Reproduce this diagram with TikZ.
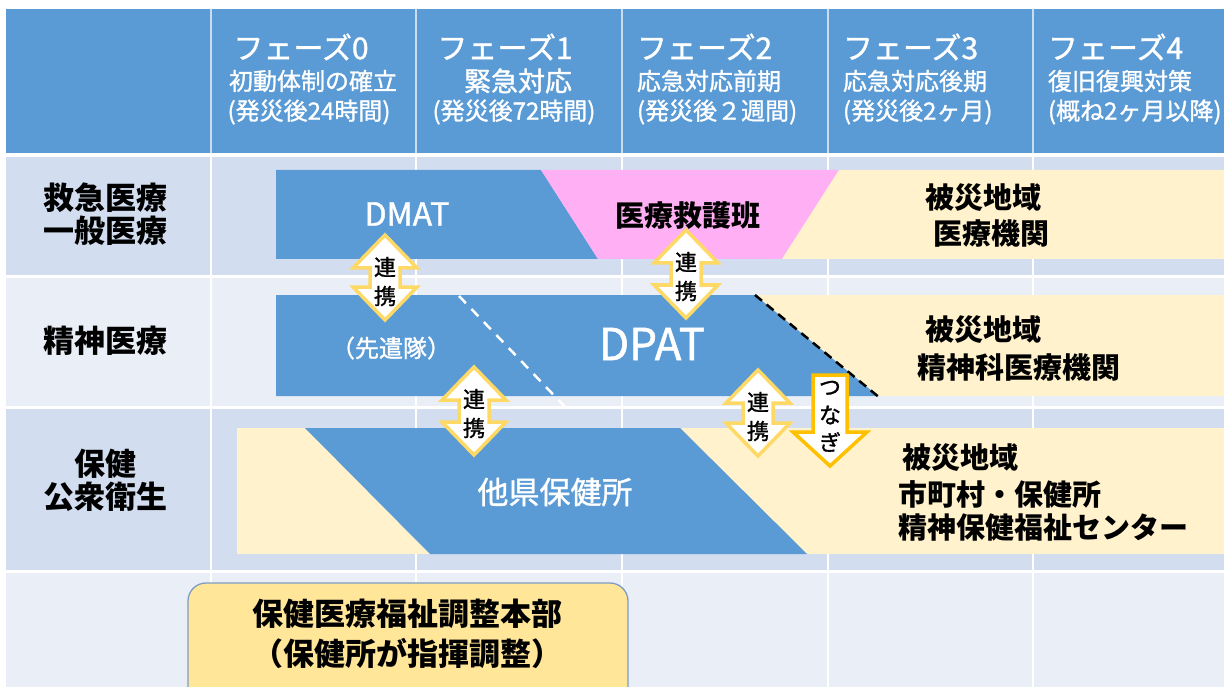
\documentclass[tikz,border=0pt]{standalone}
\usepackage{fontspec}
\setmainfont{Noto Sans CJK JP}
\newfontfamily\jpmed[FakeBold=1.2]{Noto Sans CJK JP}
\definecolor{hdr}{HTML}{5B9BD5}
\definecolor{hdrline}{HTML}{C9DCF0}
\definecolor{rowd}{HTML}{D2DEEF}
\definecolor{rowl}{HTML}{EAEFF7}
\definecolor{beige}{HTML}{FFF2CC}
\definecolor{pinkc}{HTML}{FFB0F5}
\definecolor{ayel}{HTML}{FFD966}
\definecolor{aorg}{HTML}{FFC000}
\definecolor{boxy}{HTML}{FFE699}
\definecolor{boxb}{HTML}{7F9CC4}
\newcommand\fsz[1]{\fontsize{#1}{#1}\selectfont}
\tikzset{
  hdrbig/.style={text=white, font=\jpmed\fsz{30}},
  hdrsub/.style={text=white, font=\jpmed\fsz{24}},
  rowlab/.style={text=black, font=\fsz{31}\bfseries, align=center},
  blk/.style={text=black, font=\fsz{29}\bfseries},
  wht/.style={text=white, font=\jpmed\fsz{30}},
  rentxt/.style={text=black, font=\jpmed\fsz{22}},
  dblarr/.style={draw=ayel, fill=white, line width=3.5, line join=miter},
  downarr/.style={draw=aorg, fill=white, line width=3.5, line join=miter},
}
\newcommand\renkei[4]{% name, cx, top, bottom
  \draw[dblarr] (#2,#3) -- ({#2+32},{#3+33}) -- ({#2+15},{#3+33}) -- ({#2+15},{#4-33}) -- ({#2+32},{#4-33}) -- (#2,#4) -- ({#2-32},{#4-33}) -- ({#2-15},{#4-33}) -- ({#2-15},{#3+33}) -- ({#2-32},{#3+33}) -- cycle;
  \node[rentxt] (#1a) at (#2,{#3+32}) {連};
  \node[rentxt] (#1b) at (#2,{#3+61}) {携};
}
\begin{document}
\begin{tikzpicture}[x=1pt,y=-1pt, every node/.style={inner sep=0pt, outer sep=0pt}]
\useasboundingbox (0,0) rectangle (1224,687);
\fill[white] (0,0) rectangle (1224,687);
% header and rows
\fill[hdr] (6,9) rectangle (1224,153);
\fill[rowd] (6,157) rectangle (1224,275);
\fill[rowl] (6,278) rectangle (1224,406);
\fill[rowd] (6,409) rectangle (1224,570);
\fill[rowl] (6,573) rectangle (1224,687);
\foreach \x in {211,416,622,828,1033} {
  \draw[hdrline, line width=1.5] (\x,9) -- (\x,153);
  \draw[white, line width=1.5] (\x,157) -- (\x,687);
}
% header text
\node[hdrbig] (p0) at (301,47) {フェーズ0};
\node[hdrsub] (p0a) at (313,81) {初動体制の確立};
\node[hdrsub] (p0b) at (309,112) {(発災後24時間)};
\node[hdrbig] (p1) at (505,47) {フェーズ1};
\node[hdrsub, font=\jpmed\fsz{27}] (p1a) at (518,81) {緊急対応};
\node[hdrsub] (p1b) at (514,112) {(発災後72時間)};
\node[hdrbig, anchor=west] (p2) at (637,47) {フェーズ2};
\node[hdrsub, anchor=west] (p2a) at (637,81) {応急対応前期};
\node[hdrsub, anchor=west] (p2b) at (637,112) {(発災後２週間)};
\node[hdrbig, anchor=west] (p3) at (843,47) {フェーズ3};
\node[hdrsub, anchor=west] (p3a) at (843,81) {応急対応後期};
\node[hdrsub, anchor=west] (p3b) at (843,112) {(発災後2ヶ月)};
\node[hdrbig, anchor=west] (p4) at (1048,47) {フェーズ4};
\node[hdrsub, anchor=west] (p4a) at (1048,81) {復旧復興対策};
\node[hdrsub, anchor=west] (p4b) at (1048,112) {(概ね2ヶ月以降)};
% row labels
\node[rowlab] (r1) at (105,214) {救急医療\\[2pt]一般医療};
\node[rowlab] (r2) at (105,341) {精神医療};
\node[rowlab] (r3) at (105,480) {保健\\[2pt]公衆衛生};
% row 1 bars
\fill[hdr] (276,170) -- (541,170) -- (598,259) -- (276,259) -- cycle;
\fill[pinkc] (541,170) -- (839,170) -- (782,259) -- (598,259) -- cycle;
\fill[beige] (839,170) -- (1224,170) -- (1224,259) -- (782,259) -- cycle;
% row 2 bars
\fill[beige] (755,295) -- (1224,295) -- (1224,396) -- (878,396) -- cycle;
\fill[hdr] (276,295) -- (755,295) -- (878,396) -- (276,396) -- cycle;
\draw[black, line width=2.5, dash pattern=on 9 off 6] (755,295) -- (880,398);
\draw[white, line width=2.5, dash pattern=on 10 off 8] (459,296) -- (568,410);
% row 3 bars
\fill[beige] (237,428) rectangle (1224,554);
\fill[hdr] (305,428) -- (680,428) -- (807,554) -- (430,554) -- cycle;
% bar texts
\node[wht, font=\jpmed\fsz{32}] (dmat) at (407,214) {DMAT};
\node[blk] (kyugo) at (688,216) {医療救護班};
\node[blk, anchor=west] (hs1a) at (925,198) {被災地域};
\node[blk, anchor=west] (hs1b) at (933,234) {医療機関};
\node[wht, font=\jpmed\fsz{24}] (senken) at (391,348) {（先遣隊）};
\node[wht, font=\jpmed\fsz{44}] (dpat) at (652,344) {DPAT};
\node[blk, anchor=west] (hs2a) at (925,330) {被災地域};
\node[blk, anchor=west] (hs2b) at (917,367) {精神科医療機関};
\node[wht, font=\jpmed\fsz{31}] (taken) at (555,492) {他県保健所};
\node[blk, anchor=west] (hs3a) at (902,458) {被災地域};
\node[blk, anchor=west] (hs3b) at (898,494) {市町村・保健所};
\node[blk, anchor=west] (hs3c) at (898,528) {精神保健福祉センター};
% arrows
\renkei{ra}{385}{235}{320}
\renkei{rb}{686}{230}{318}
\renkei{rc}{474}{367}{455}
\renkei{rd}{758}{370}{456}
\draw[downarr] (813,375) -- (847,375) -- (847,432) -- (867,432) -- (830,466) -- (793,432) -- (813,432) -- cycle;
\node[rentxt] (tsu) at (830,388) {つ};
\node[rentxt] (na) at (830,415) {な};
\node[rentxt] (gi) at (830,442) {ぎ};
% headquarters box
\draw[draw=boxb, fill=boxy, line width=1.3, rounded corners=18] (188,583) rectangle (628,710);
\node[blk, font=\fsz{31}\bfseries] (hq1) at (407,614) {保健医療福祉調整本部};
\node[blk, font=\fsz{31}\bfseries] (hq2) at (407,653) {（保健所が指揮調整）};
\end{tikzpicture}
\end{document}
